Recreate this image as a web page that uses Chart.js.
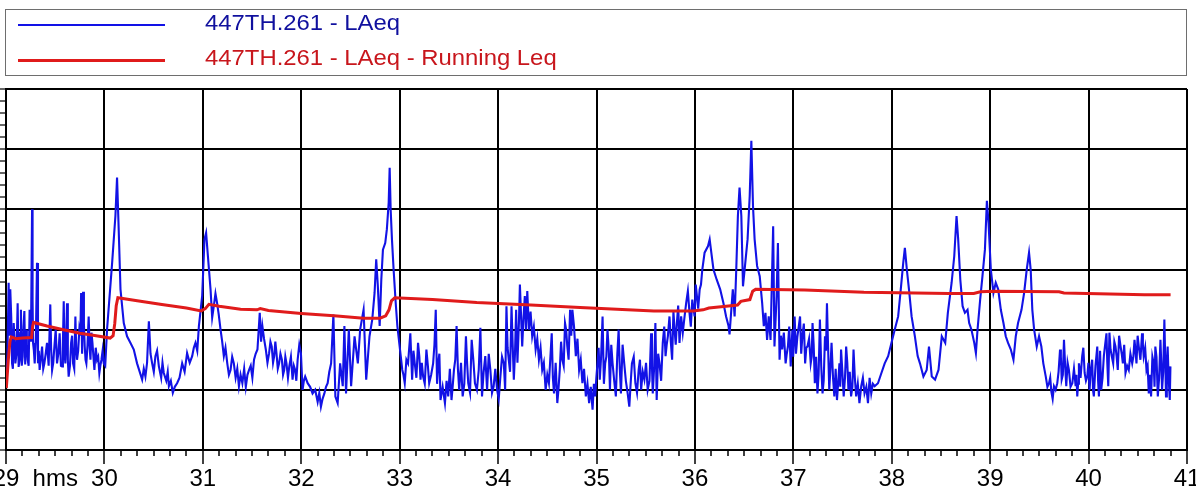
<!DOCTYPE html>
<html>
<head>
<meta charset="utf-8">
<title>447TH.261 - LAeq</title>
<script src="https://cdn.jsdelivr.net/npm/chart.js@4.4.1/dist/chart.umd.min.js"></script>
<style>
  html, body { margin: 0; padding: 0; background: #fff; overflow: hidden; }
  #wrap { position: relative; width: 1196px; height: 490px; }
  #legend {
    position: absolute; left: 5px; top: 9px; width: 1182px; height: 67px;
    border: 1px solid #6e6e6e; box-sizing: border-box; background: #fff;
    font-family: "Liberation Sans", Arial, sans-serif; font-size: 22px;
  }
  .row { position: absolute; left: 0; height: 30px; line-height: 30px; }
  .swatch { position: absolute; left: 12px; width: 147px; }
  .label { position: absolute; left: 199px; top: -2px; white-space: nowrap; transform: scaleX(1.085); transform-origin: left center; }
</style>
</head>
<body>
<div id="wrap">
  <canvas id="chart" width="1196" height="490"></canvas>
  <div id="legend"></div>
</div>
<script>
// time axis is in minutes (29 .. 41), samples given in seconds after 29:00
const axisStart = 29;
const axisEnd = 41;
const unitLabel = 'hms';

// LAeq samples: seconds after 29:00 and level in dB
const laeqSeconds = [
  0.2, 1.6, 2.6, 3.7, 4.7, 5.7, 7.1, 8.3, 9.1, 10.2, 11.2, 12.2, 13.2, 14.4, 15.9, 16.5, 17.5, 18.9, 19.5, 20.5,
  22.0, 23.4, 25.0, 27.0, 28.1, 29.5, 31.1, 32.7, 34.2, 35.2, 36.2, 37.2, 38.2, 39.7, 40.9, 42.3, 43.3, 44.7, 45.8, 47.0,
  48.0, 49.0, 50.4, 51.5, 52.7, 53.9, 55.5, 56.9, 58.2, 59.6, 61.6, 64.7, 66.7, 67.7, 68.7, 69.8, 71.8, 73.8, 75.9, 77.9,
  79.9, 83.0, 85.0, 87.1, 89.1, 91.1, 93.2, 96.2, 99.3, 101.7, 104.3, 107.4, 110.4, 113.5, 115.5, 117.6, 119.6, 121.0, 122.0, 123.1,
  124.7, 126.7, 128.7, 130.8, 132.8, 134.9, 136.9, 138.9, 142.0,
  144.1, 148.2, 151.2, 153.3, 154.7, 156.3, 158.4, 160.4, 162.0, 163.5, 164.9, 166.5, 168.2, 169.6, 171.0, 172.7, 174.7, 176.3, 177.8, 179.8,
  180.8, 182.4, 183.9, 186.9, 190.0, 192.0, 194.1, 196.1, 198.2, 199.6, 200.8, 202.2, 203.7, 205.3, 206.3, 207.3, 209.0, 210.4, 212.5, 214.5,
  215.9, 218.0, 219.6, 221.6, 223.3, 224.7, 225.7, 226.7, 227.8, 228.8, 229.8, 231.2, 232.2, 233.3, 233.9, 234.5, 235.3, 236.3, 237.6, 238.6,
  240.0, 241.6, 243.1, 245.1, 246.5, 247.6, 249.2, 251.2, 252.7, 254.3, 256.3, 258.0, 260.4, 262.0, 263.5, 264.9, 267.6, 269.6, 271.6, 273.1,
  274.7, 276.3, 278.4, 280.4, 281.8, 283.9, 285.9,
  288.2, 289.2, 290.2, 292.2, 293.3, 295.3, 297.3, 299.4, 301.4, 303.5, 305.1, 306.5, 308.2, 309.6, 311.0, 312.7, 313.3, 314.7, 316.3, 317.8,
  318.8, 320.8, 322.9, 324.9, 326.9, 329.0, 331.0, 332.7, 334.1, 336.1, 337.6, 339.2, 340.8, 342.2, 343.9, 345.3, 347.4, 349.4, 351.4, 353.5,
  355.5, 357.6, 359.2, 360.6, 362.0, 363.7, 365.3, 366.7, 368.2, 369.8, 371.8, 373.5, 374.9, 376.9, 379.0, 380.0, 381.6, 383.7, 385.7, 387.2,
  389.2, 391.2, 393.3, 394.3, 395.9, 396.7, 398.4, 400.4, 402.1, 403.5, 404.5, 406.1, 407.6, 409.0, 410.6, 411.6, 413.7, 415.7, 416.7, 418.4,
  419.8, 421.2, 422.9, 424.5, 425.9, 428.0, 429.0, 430.0,
  431.3, 433.3, 435.4, 437.4, 439.0, 440.5, 441.1, 441.9, 443.1, 444.2, 445.2, 446.2, 447.2, 448.3, 449.3, 450.7, 452.1, 453.4, 454.4, 455.4,
  456.4, 457.9, 459.5, 461.0, 462.0, 463.0, 464.0, 465.0, 466.1, 467.7, 468.5, 469.8, 470.6, 471.6, 473.2, 475.3, 476.7, 478.4, 479.4, 480.8,
  482.5, 484.1, 485.5, 487.2, 488.6, 490.6, 491.7, 493.1, 494.7, 496.2, 497.8, 499.3, 500.5, 501.9, 503.3, 505.0, 506.6, 508.1, 509.1, 510.7,
  512.2, 513.6, 515.2, 516.7, 518.3, 520.3, 521.4, 523.4, 525.5, 527.5, 529.6, 531.6, 533.7, 535.7, 537.8, 539.8, 541.8, 543.9, 545.5, 547.0,
  548.0, 549.2, 550.5, 552.1, 554.1, 555.8, 557.2, 559.3, 561.3, 562.7, 564.4, 566.4, 568.5, 570.5, 572.6, 574.2,
  576.5, 578.1, 579.5, 580.5, 581.8, 583.2, 584.6, 586.2, 587.2, 588.6, 590.3, 591.3, 592.3, 593.9, 595.3, 596.8, 598.0, 599.0, 600.4, 602.0,
  603.4, 604.9, 606.5, 608.1, 609.5, 610.9, 612.6, 614.2, 615.6, 617.0, 619.1, 620.7, 622.3, 623.7, 624.7, 625.7, 626.8, 628.4, 629.8, 631.2,
  632.4, 633.9, 635.9, 637.3, 638.9, 640.9, 642.6, 643.6, 645.0, 646.4, 648.0, 650.1, 652.1, 653.1, 654.1, 656.1, 657.6, 659.2, 660.6, 662.2,
  663.2, 665.3, 666.3, 667.7, 669.3, 670.9, 672.0, 673.4, 675.0, 676.4, 677.8, 679.5, 680.9, 682.5, 684.5, 686.6, 688.0, 689.2, 690.6, 692.6,
  693.6, 695.3, 696.7, 698.1, 699.7, 700.7, 702.2, 703.8, 704.8, 706.2, 707.2, 708.2, 709.5, 709.9
];
const laeqValues = [
  40.3, 57.8, 56.7, 44.4, 51.1, 44.4, 54.4, 45.0, 53.3, 45.6, 53.1, 50.0, 45.0, 53.3, 70.0, 47.8, 44.4, 61.1, 44.4, 43.3,
  47.2, 44.4, 47.8, 54.2, 43.3, 47.2, 44.4, 49.4, 43.9, 54.7, 44.4, 54.4, 42.2, 47.8, 44.4, 52.2, 45.0, 50.0, 56.1, 56.3,
  47.2, 44.4, 52.2, 45.0, 47.8, 43.3, 45.0, 42.8, 45.0, 44.4, 50.0, 61.1, 68.9, 75.3, 66.7, 56.7, 51.1, 48.9, 47.8, 46.7,
  44.4, 41.7, 42.2, 51.4, 44.4, 45.6, 43.9, 42.8, 40.6, 39.5, 41.1, 44.4, 46.1, 45.6, 47.8, 50.6, 55.6, 65.0, 66.1, 62.2,
  56.7, 53.9, 54.4, 50.0, 45.6, 44.4, 43.3, 44.4, 40.6,
  41.1, 43.3, 45.0, 46.7, 52.8, 50.6, 46.7, 46.1, 47.2, 45.6, 46.1, 44.4, 45.0, 43.3, 44.4, 43.9, 41.7, 43.3, 45.0, 46.1,
  40.0, 42.2, 41.1, 39.4, 38.0, 37.2, 39.4, 41.1, 44.4, 52.5, 38.9, 37.8, 44.4, 40.6, 50.6, 39.4, 50.0, 40.6, 48.9, 44.4,
  50.0, 53.3, 41.7, 48.9, 51.7, 56.1, 61.7, 57.2, 50.6, 58.3, 63.3, 64.4, 66.7, 71.1, 76.9, 70.0, 65.0, 60.0, 54.4, 50.6,
  47.2, 43.3, 41.1, 44.4, 49.4, 41.7, 44.4, 47.8, 41.7, 42.2, 46.7, 41.1, 44.4, 53.3, 44.4, 38.3, 37.8, 38.9, 38.3, 43.3,
  50.6, 40.0, 38.9, 48.9, 41.1, 48.3, 41.1,
  43.3, 50.3, 38.9, 45.6, 40.0, 43.3, 40.6, 40.0, 42.2, 44.4, 53.9, 45.0, 53.9, 41.7, 53.3, 51.1, 57.5, 47.2, 55.6, 56.4,
  50.0, 48.9, 46.7, 45.0, 43.3, 40.0, 41.1, 49.4, 39.4, 37.8, 43.3, 45.0, 51.1, 47.2, 53.3, 53.3, 45.6, 43.3, 41.1, 38.9,
  37.8, 36.7, 38.9, 44.4, 41.7, 52.2, 44.4, 50.0, 40.0, 44.4, 38.9, 50.0, 39.4, 44.4, 39.4, 37.2, 44.4, 41.1, 43.3, 40.0,
  41.7, 40.0, 49.4, 39.4, 51.1, 38.3, 44.4, 47.8, 45.6, 48.9, 52.2, 45.0, 50.0, 51.1, 47.8, 52.2, 52.2, 56.4, 52.8, 55.0,
  52.2, 55.6, 56.7, 60.0, 62.8, 63.9, 65.0, 62.8,
  60.0, 58.3, 56.7, 54.4, 52.2, 50.6, 49.2, 52.2, 56.7, 52.2, 60.0, 68.9, 73.6, 68.9, 57.2, 61.1, 65.0, 72.2, 81.4, 70.6,
  65.0, 60.6, 58.9, 54.4, 50.6, 52.8, 48.3, 52.2, 48.3, 67.2, 47.2, 55.6, 64.4, 45.0, 46.7, 44.4, 47.2, 43.9, 50.0, 52.2,
  48.9, 52.2, 48.9, 44.4, 47.2, 44.4, 51.1, 41.1, 39.4, 51.7, 39.4, 48.9, 54.4, 40.0, 47.8, 38.9, 38.3, 44.4, 46.7, 38.9,
  47.2, 40.0, 38.9, 46.7, 38.9, 37.8, 40.6, 39.4, 37.8, 39.4, 40.6, 41.1, 42.8, 44.4, 45.6, 47.8, 50.0, 52.2, 56.7, 61.1,
  63.6, 60.0, 56.7, 52.2, 48.9, 45.6, 44.4, 42.2, 43.3, 47.2, 42.2, 41.7, 43.3, 48.9, 47.8, 52.8,
  57.8, 62.2, 68.9, 65.0, 58.3, 53.9, 52.8, 53.3, 51.1, 50.0, 47.8, 46.1, 50.0, 55.0, 58.9, 63.3, 71.4, 67.8, 60.0, 56.1,
  57.8, 56.7, 53.3, 51.1, 48.9, 47.8, 46.7, 45.0, 48.9, 51.1, 53.3, 56.1, 60.0, 62.8, 60.0, 53.3, 50.0, 47.2, 48.9, 47.2,
  44.4, 42.2, 41.1, 39.7, 40.6, 41.1, 46.7, 41.7, 48.3, 40.6, 43.3, 41.1, 40.6, 38.9, 44.4, 45.6, 42.8, 42.2, 40.0, 45.0,
  38.9, 47.2, 38.9, 40.0, 45.6, 49.4, 40.6, 46.7, 44.4, 47.2, 43.3, 47.2, 44.4, 42.8, 43.3, 44.4, 48.3, 44.4, 47.2, 49.4,
  45.6, 43.3, 39.4, 38.9, 44.4, 47.2, 38.9, 48.3, 40.0, 51.7, 38.9, 47.2, 38.3, 43.9
];

// extra LAeq readings [seconds, dB] from the densely fluctuating stretches
const laeqExtra = [
  [0.9, 46.0], [2.1, 49.0], [3.2, 52.0], [4.2, 43.5], [5.2, 48.5], [6.4, 46.0], [7.7, 43.8], [8.7, 49.5], [9.6, 44.0], [10.7, 50.5],
  [11.7, 44.2], [12.7, 47.5], [13.8, 44.0], [15.2, 48.0], [16.2, 55.0], [17.0, 46.5], [18.2, 48.5], [20.0, 46.5], [21.2, 45.0], [22.7, 43.5],
  [24.2, 46.0], [26.0, 44.0], [27.5, 47.0], [28.8, 44.5], [30.3, 50.0], [31.9, 46.0], [33.5, 44.0], [34.7, 48.0], [35.7, 46.0], [36.7, 48.5],
  [37.7, 45.0], [39.0, 44.0], [40.3, 49.0], [41.6, 43.5], [42.8, 47.0], [44.0, 46.5], [45.3, 49.0], [46.4, 46.0], [47.5, 51.0], [48.5, 45.0],
  [49.7, 47.5], [51.0, 47.0], [52.1, 49.5], [53.3, 45.5], [54.7, 47.0], [56.2, 45.5], [57.5, 44.0], [58.9, 46.5], [60.5, 44.0],
  [84.0, 43.5], [86.0, 44.5], [88.1, 46.0], [90.1, 43.0], [92.1, 46.5], [94.6, 42.0], [95.4, 44.5], [97.7, 41.5], [98.6, 43.0], [100.5, 41.5],
  [102.9, 40.5], [105.8, 42.0], [108.9, 43.0], [112.0, 44.5], [114.5, 47.0], [116.6, 46.5],
  [125.7, 52.0], [127.7, 56.0], [129.7, 52.5], [131.8, 48.0], [133.8, 47.0], [135.9, 42.5], [137.9, 45.5], [140.0, 42.0], [141.0, 43.5], [143.0, 42.5],
  [145.2, 43.5], [146.2, 40.5], [147.2, 42.5], [149.2, 44.0], [150.2, 42.0], [152.2, 46.0], [155.5, 48.0], [157.3, 48.5], [159.4, 44.5], [161.2, 48.0],
  [162.8, 44.5], [164.2, 48.0], [165.7, 43.5], [167.3, 46.0], [168.9, 42.5], [170.3, 45.5], [171.9, 42.0], [173.7, 45.5], [175.5, 44.0], [177.0, 41.5],
  [178.8, 47.5], [181.6, 41.5], [185.4, 40.5], [188.5, 40.0], [191.0, 39.5], [193.0, 38.5], [195.1, 40.5], [197.1, 43.0],
  [242.3, 42.5], [244.1, 45.0], [248.4, 46.5], [250.2, 42.0], [252.0, 45.5], [253.5, 44.5], [255.3, 41.0], [257.2, 44.0], [259.2, 42.5], [261.2, 47.5],
  [262.8, 41.0], [264.2, 46.0], [266.2, 40.5], [268.6, 41.5], [270.6, 43.5], [272.3, 40.5], [273.9, 45.0], [275.5, 43.5], [277.4, 44.5], [279.4, 41.0],
  [281.1, 44.5], [282.9, 39.5], [284.9, 45.0], [287.1, 40.0],
  [291.2, 43.0], [294.3, 46.0], [296.3, 39.5], [298.3, 43.5], [300.4, 38.5], [302.4, 45.5], [304.3, 40.0], [305.8, 47.0], [307.3, 43.0], [308.9, 47.5],
  [310.3, 46.0], [311.8, 44.5], [315.5, 52.0], [317.0, 50.0], [319.8, 53.0], [321.8, 50.5], [323.9, 48.5], [325.9, 47.0], [327.9, 44.5], [330.0, 42.5],
  [333.4, 42.0], [335.1, 44.5], [336.8, 40.0], [338.4, 48.0], [340.0, 44.0], [341.5, 50.0], [343.0, 45.0], [344.6, 49.0], [346.3, 50.5], [348.4, 48.5],
  [350.4, 45.0], [352.4, 43.5], [354.5, 41.0], [356.5, 40.5], [358.4, 41.0], [359.9, 42.0], [361.3, 47.0], [362.8, 45.5], [364.5, 41.0], [366.0, 45.5],
  [367.5, 46.5], [369.0, 47.5], [370.8, 41.5], [372.7, 46.0], [374.2, 43.5], [375.9, 47.5], [377.9, 41.5], [380.8, 41.0], [382.7, 45.5], [384.7, 39.5],
  [386.5, 45.0], [388.2, 43.0], [390.2, 44.5], [392.3, 41.5], [393.8, 44.0], [395.1, 43.5], [397.6, 46.0], [399.4, 41.5], [401.3, 50.5], [402.8, 47.5],
  [405.3, 48.0], [406.9, 53.0], [408.3, 47.5], [409.8, 54.0], [412.6, 49.5], [414.7, 54.5], [417.5, 50.5], [420.5, 57.5], [422.0, 53.5], [423.7, 57.5],
  [472.4, 49.0], [474.2, 49.5], [476.0, 46.0], [477.5, 50.5], [479.9, 45.5], [481.6, 46.0], [483.3, 50.5], [484.8, 46.0], [486.4, 51.0], [487.9, 47.0],
  [489.6, 48.5], [491.2, 45.5], [492.4, 47.5], [493.9, 45.5], [495.4, 42.5], [497.0, 44.0], [498.5, 41.5], [499.9, 46.5], [501.2, 47.0], [502.6, 43.5],
  [504.2, 42.0], [505.8, 43.5], [507.3, 41.0], [508.6, 40.5], [509.9, 43.0], [511.5, 42.0], [512.9, 44.5], [514.4, 43.0], [516.0, 40.5], [517.5, 42.0],
  [519.3, 41.0], [522.4, 42.0], [524.5, 40.5], [526.5, 42.0], [528.5, 41.0],
  [634.9, 40.5], [636.6, 42.0], [638.1, 38.5], [639.9, 40.0], [641.7, 43.0], [643.1, 45.5], [644.3, 42.5], [645.7, 44.0], [647.2, 44.5], [649.0, 40.5],
  [651.1, 43.5], [652.6, 42.5], [653.6, 41.0], [655.1, 42.0], [656.8, 47.0], [658.4, 41.5], [659.9, 44.5], [661.4, 43.5], [662.7, 40.0], [664.2, 44.0],
  [665.8, 41.5], [667.0, 46.5], [668.5, 42.0], [670.1, 47.5], [671.4, 44.5], [672.7, 49.5], [674.2, 45.5], [675.7, 48.0], [677.1, 45.5], [678.6, 49.0],
  [680.2, 46.0], [681.7, 47.5], [683.5, 44.0], [685.5, 46.0], [687.3, 45.5], [688.6, 46.5], [689.9, 49.0], [691.6, 45.0], [693.1, 47.5], [694.5, 47.0],
  [696.0, 44.0], [697.4, 42.5], [698.9, 45.5], [700.2, 40.5], [701.4, 45.5], [703.0, 42.0], [704.3, 44.5], [705.5, 43.0], [706.7, 45.5], [707.7, 44.0],
  [708.8, 42.0]
];

// Running Leq: seconds after 29:00 and level in dB
const runningSeconds = [
  0.2, 1.4, 2.4, 3.2, 6, 10, 15.6, 16.2, 16.8, 25, 35, 45, 55, 63.5, 65.3, 66.3, 67.2, 68.2, 80, 95,
  110, 119, 121.5, 123.7, 130, 143, 153, 155, 160, 180, 200, 218, 228, 231.5, 233.5, 235, 237, 260, 287, 320,
  350, 395, 419, 425, 428.5, 439, 446, 448, 453.5, 455.2, 457, 487, 523, 575, 590, 594, 602, 642, 645, 694, 710
];
const runningValues = [
  40.3, 45.0, 48.0, 48.8, 48.5, 48.6, 48.7, 50.5, 51.2, 50.6, 50.0, 49.4, 49.0, 48.6, 49.0, 51.0, 54.0, 55.3, 54.8, 54.2,
  53.6, 53.1, 53.5, 54.2, 53.9, 53.4, 53.3, 53.5, 53.2, 52.7, 52.3, 51.9, 51.9, 52.3, 53.3, 54.8, 55.3, 55.0, 54.5, 54.1,
  53.7, 53.1, 53.1, 53.3, 53.6, 53.9, 54.1, 54.7, 55.0, 56.4, 56.7, 56.6, 56.2, 56.0, 56.0, 56.3, 56.4, 56.3, 56.1, 55.8, 55.8
];

// level axis (labels are off the left edge in the original)
const levelMin = 30;
const levelMax = 90;
const levelGrid = 10;
const levelMinor = 2;

const seriesNames = ['447TH.261 - LAeq', '447TH.261 - LAeq - Running Leq'];
const lineColors = ['#1212e6', '#e01b1b'];
const textColors = ['#10109e', '#c8161c'];

function toPoints(secs, vals) {
  return secs.map((s, i) => ({ x: axisStart + s / 60, y: vals[i] }));
}

function isWhole(v, step) {
  const q = v / step;
  return Math.abs(q - Math.round(q)) < 1e-6;
}

// merge the main and extra readings into one time-ordered trace
const laeqPoints = toPoints(laeqSeconds, laeqValues)
  .concat(laeqExtra.map(([s, v]) => ({ x: axisStart + s / 60, y: v })))
  .sort((a, b) => a.x - b.x);

const chart = new Chart(document.getElementById('chart'), {
  type: 'line',
  data: {
    datasets: [
      {
        label: seriesNames[0],
        data: laeqPoints,
        borderColor: lineColors[0],
        borderWidth: 2.1,
        pointRadius: 0,
        tension: 0,
        order: 2
      },
      {
        label: seriesNames[1],
        data: toPoints(runningSeconds, runningValues),
        borderColor: lineColors[1],
        borderWidth: 3,
        pointRadius: 0,
        tension: 0,
        order: 1
      }
    ]
  },
  options: {
    responsive: false,
    animation: false,
    events: [],
    layout: { padding: { top: 89, right: 9, left: 0, bottom: -4 } },
    plugins: { legend: { display: false }, tooltip: { enabled: false } },
    scales: {
      x: {
        type: 'linear',
        min: axisStart,
        max: axisEnd,
        afterFit: (scale) => { scale.paddingLeft = 0; scale.paddingRight = 0; },
        border: { color: '#000', width: 2 },
        grid: {
          lineWidth: 2,
          color: (ctx) => (!ctx.tick || isWhole(ctx.tick.value, 1)) ? '#000' : 'rgba(0,0,0,0)',
          tickColor: '#000',
          tickWidth: 1.5,
          tickLength: 14,
          // minor ticks only show the first few pixels of the tick
          tickBorderDash: (ctx) => (ctx.tick && !isWhole(ctx.tick.value, 1)) ? [5, 40] : []
        },
        ticks: {
          stepSize: 1 / 6,
          autoSkip: false,
          maxRotation: 0,
          minRotation: 0,
          padding: 3,
          color: '#000',
          font: { family: '"Liberation Sans", Arial, sans-serif', size: 24, lineHeight: 1 },
          callback: (v) => {
            if (isWhole(v, 1)) return String(Math.round(v));
            if (Math.abs(v - (axisStart + 0.5)) < 1e-6) return unitLabel;
            return '';
          }
        }
      },
      y: {
        min: levelMin,
        max: levelMax,
        afterFit: (scale) => { scale.paddingTop = 0; scale.paddingBottom = 0; },
        border: { color: '#000', width: 2 },
        grid: {
          lineWidth: 2,
          color: (ctx) => (!ctx.tick || isWhole(ctx.tick.value, levelGrid)) ? '#000' : 'rgba(0,0,0,0)',
          tickColor: '#000',
          tickWidth: 1.2,
          tickLength: 6
        },
        ticks: { stepSize: levelMinor, display: false }
      }
    }
  }
});

// legend box drawn as html above the plot
const legend = document.getElementById('legend');
const rowCenters = [15, 50];
chart.data.datasets.forEach((ds, i) => {
  const row = document.createElement('div');
  row.className = 'row';
  row.style.top = (rowCenters[i] - 15) + 'px';
  const sw = document.createElement('div');
  sw.className = 'swatch';
  const h = i === 0 ? 1.5 : 3;
  sw.style.top = (15 - h / 2) + 'px';
  sw.style.height = h + 'px';
  sw.style.background = ds.borderColor;
  const txt = document.createElement('div');
  txt.className = 'label';
  txt.style.color = textColors[i];
  txt.textContent = ds.label;
  row.appendChild(sw);
  row.appendChild(txt);
  legend.appendChild(row);
});
</script>
</body>
</html>
